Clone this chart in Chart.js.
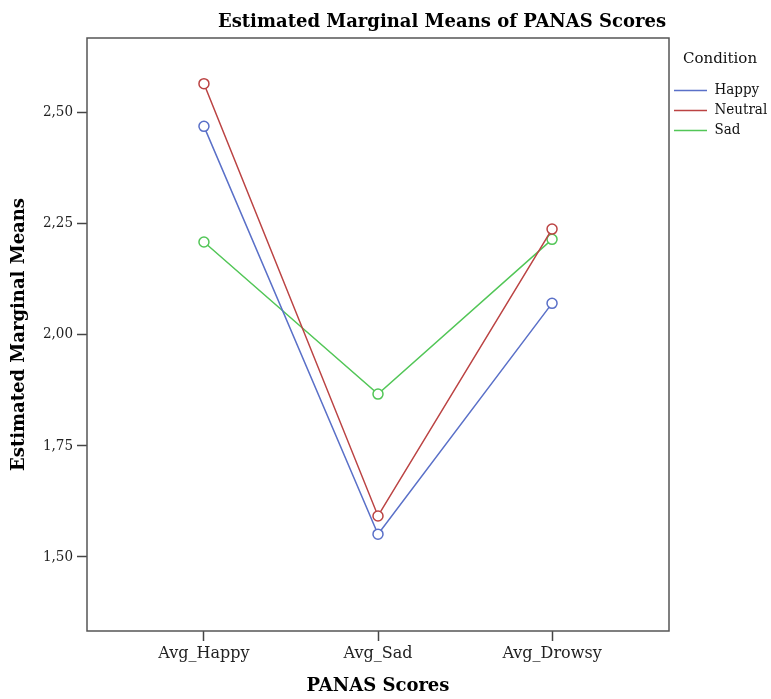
<!DOCTYPE html>
<html lang="en">
<head>
<meta charset="UTF-8">
<title>Estimated Marginal Means of PANAS Scores</title>
<script src="https://cdn.jsdelivr.net/npm/chart.js"></script>
<style>
  html, body { margin: 0; padding: 0; background: #fff; }
  #wrap { width: 771px; height: 699px; }
</style>
</head>
<body>
<div id="wrap"><canvas id="emm"></canvas></div>
<script>
const scores = ['Avg_Happy', 'Avg_Sad', 'Avg_Drowsy']
const conditions = ['Happy', 'Neutral', 'Sad']
const happyMeans = [2.468, 1.551, 2.070]
const neutralMeans = [2.564, 1.592, 2.237]
const sadMeans = [2.208, 1.866, 2.214]
const yTicks = [1.5, 1.75, 2.0, 2.25, 2.5]

const colors = ['#5a70c8', '#bb4343', '#52c657']
const serif = "'DejaVu Serif', serif"
const serifCond = "'DejaVu Serif Condensed', 'DejaVu Serif', serif"

const toPoints = (vals) => vals.map((v, i) => ({ x: i, y: v }))

// box round the plot area + the chart title (not centred on the canvas in the original)
const framePlugin = {
  id: 'frame',
  afterDraw(chart) {
    const { ctx, chartArea: a } = chart
    ctx.save()
    ctx.strokeStyle = '#555'
    ctx.lineWidth = 1.5
    ctx.strokeRect(a.left, a.top, a.right - a.left, a.bottom - a.top)
    ctx.fillStyle = '#000'
    ctx.font = 'bold 18px ' + serif
    ctx.textAlign = 'center'
    ctx.textBaseline = 'alphabetic'
    ctx.fillText('Estimated Marginal Means of PANAS Scores', 442, 27)
    ctx.restore()
  },
}

const series = [happyMeans, neutralMeans, sadMeans]

new Chart(document.getElementById('emm'), {
  type: 'line',
  data: {
    datasets: series.map((vals, i) => ({
      label: conditions[i],
      data: toPoints(vals),
      borderColor: colors[i],
      backgroundColor: colors[i],
      borderWidth: 1.5,
      pointRadius: 5,
      pointBorderWidth: 1.5,
      pointBackgroundColor: '#fff',
      pointBorderColor: colors[i],
      tension: 0,
    })),
  },
  options: {
    responsive: true,
    maintainAspectRatio: false,
    animation: false,
    layout: { padding: { top: 38, left: 0, right: 0, bottom: 0 } },
    plugins: {
      title: { display: false },
      tooltip: { enabled: false },
      legend: {
        position: 'right',
        align: 'start',
        maxWidth: 102,
        title: {
          display: true,
          text: 'Condition',
          position: 'center',
          color: '#111',
          font: { family: serif, size: 15 },
          padding: { top: 14, bottom: 8 },
        },
        labels: {
          usePointStyle: true,
          pointStyle: 'line',
          pointStyleWidth: 33,
          padding: 5,
          color: '#111',
          font: { family: serifCond, size: 15 },
        },
      },
    },
    scales: {
      x: {
        type: 'linear',
        min: -0.672,
        max: 2.672,
        afterBuildTicks: (scale) => {
          scale.ticks = scores.map((s, i) => ({ value: i }))
        },
        afterFit: (scale) => {
          scale.height = 68
        },
        grid: { display: true, drawOnChartArea: false, drawTicks: true, tickLength: 10, tickColor: '#444', tickWidth: 1.5 },
        border: { display: false },
        ticks: {
          padding: 3,
          color: '#222',
          font: { family: serif, size: 16 },
          maxRotation: 0,
          callback: (v) => scores[v] ?? '',
        },
        title: {
          display: true,
          text: 'PANAS Scores',
          color: '#000',
          font: { family: serif, size: 18, weight: 'bold' },
          padding: { top: 0, bottom: 2 },
        },
      },
      y: {
        min: 1.3333,
        max: 2.6667,
        afterBuildTicks: (scale) => {
          scale.ticks = yTicks.map((v) => ({ value: v }))
        },
        afterFit: (scale) => {
          scale.width = 87
        },
        grid: { display: true, drawOnChartArea: false, drawTicks: true, tickLength: 10, tickColor: '#444', tickWidth: 1.5 },
        border: { display: false },
        ticks: {
          padding: 4,
          color: '#222',
          font: { family: serifCond, size: 15 },
          callback: (v) => v.toFixed(2).replace('.', ','),
        },
        title: {
          display: true,
          text: 'Estimated Marginal Means',
          color: '#000',
          font: { family: serif, size: 18, weight: 'bold' },
          padding: { top: 9, bottom: 10 },
        },
      },
    },
  },
  plugins: [framePlugin],
})
</script>
</body>
</html>
